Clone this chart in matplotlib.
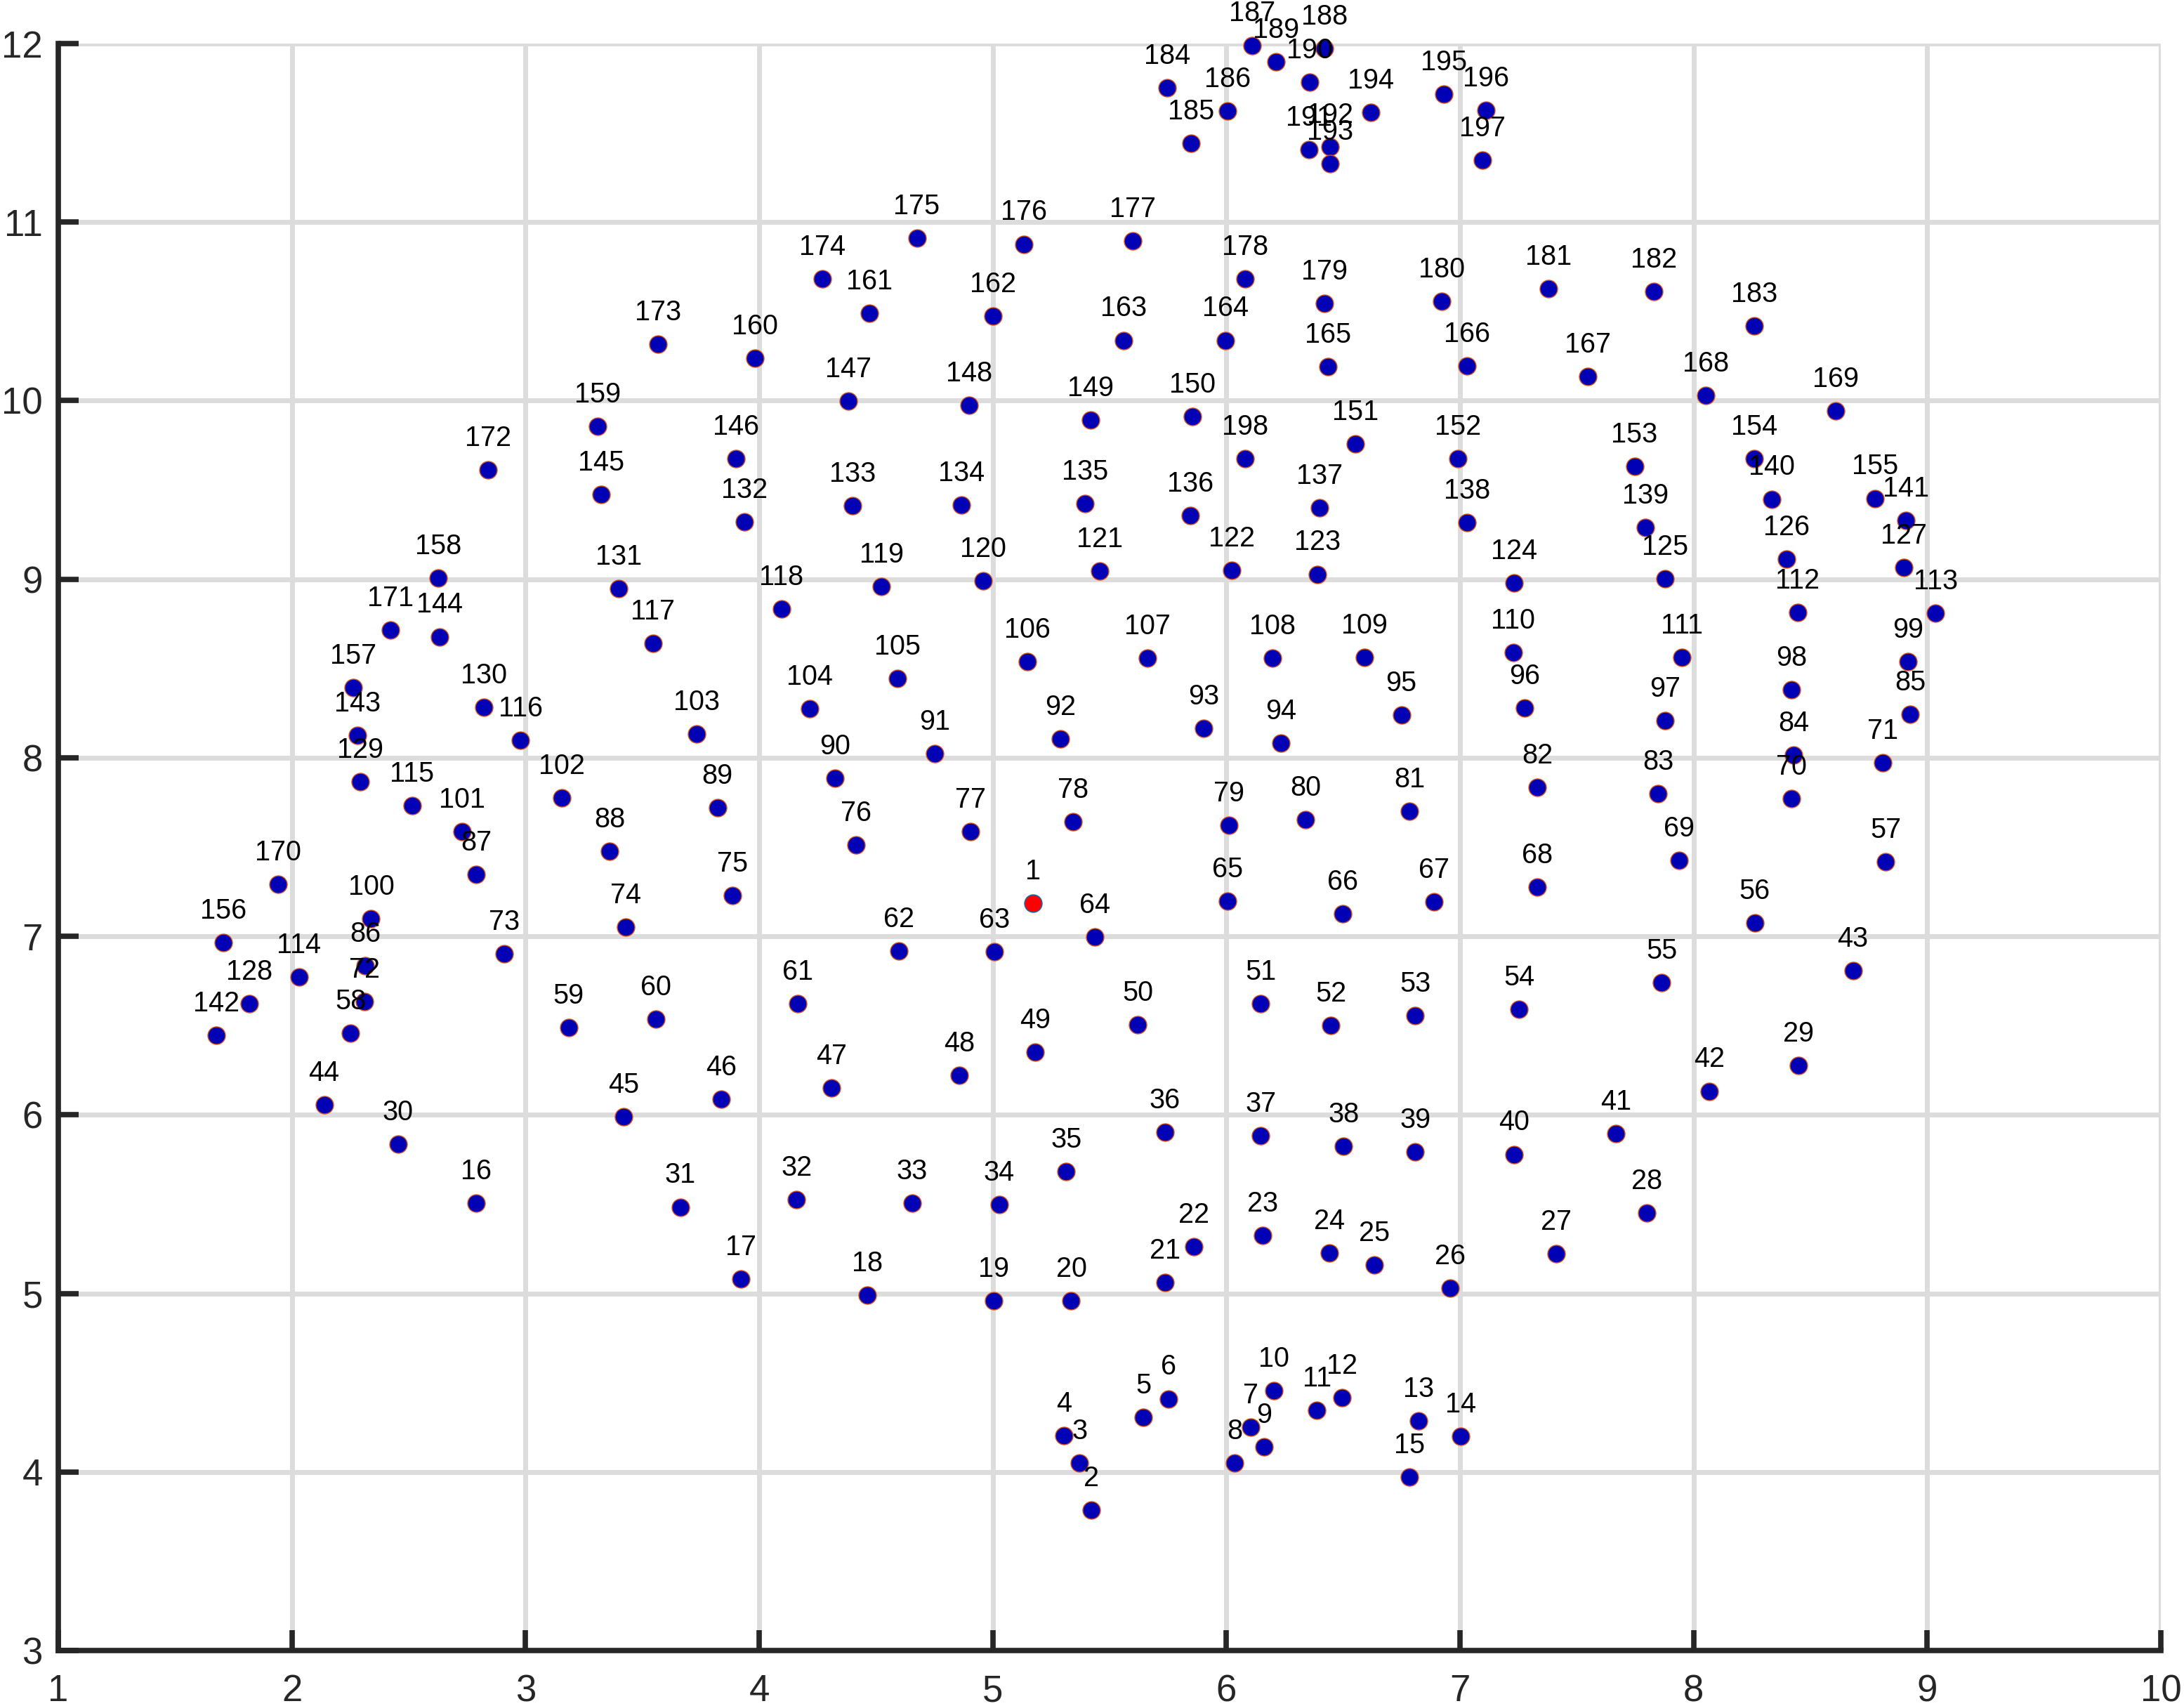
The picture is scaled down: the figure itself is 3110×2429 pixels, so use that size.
import matplotlib
matplotlib.use("Agg")
import matplotlib.pyplot as plt

x_vals = [
    5.172, 5.423, 5.371, 5.304, 5.645, 5.752, 6.103, 6.036, 6.161, 6.203,
    6.388, 6.495, 6.823, 7.003, 6.783, 2.789, 3.921, 4.464, 5.005, 5.336,
    5.737, 5.860, 6.154, 6.442, 6.632, 6.958, 7.412, 7.801, 8.450, 2.454,
    3.663, 4.160, 4.655, 5.027, 5.314, 5.737, 6.147, 6.502, 6.809, 7.231,
    7.668, 8.066, 8.682, 2.138, 3.419, 3.837, 4.310, 4.858, 5.181, 5.621,
    6.147, 6.447, 6.809, 7.253, 7.863, 8.262, 8.822, 2.251, 3.185, 3.559,
    4.165, 4.597, 5.008, 5.438, 6.005, 6.497, 6.890, 7.332, 7.938, 8.419,
    8.809, 2.312, 2.910, 3.429, 3.885, 4.414, 4.904, 5.345, 6.010, 6.338,
    6.784, 7.332, 7.848, 8.429, 8.927, 2.314, 2.790, 3.361, 3.822, 4.324,
    4.752, 5.289, 5.902, 6.233, 6.749, 7.277, 7.879, 8.418, 8.917, 2.339,
    2.727, 3.156, 3.733, 4.215, 4.593, 5.148, 5.662, 6.196, 6.590, 7.227,
    7.949, 8.445, 9.036, 2.030, 2.514, 2.978, 3.545, 4.095, 4.524, 4.960,
    5.458, 6.023, 6.391, 7.232, 7.879, 8.398, 8.899, 1.817, 2.294, 2.822,
    3.398, 3.937, 4.399, 4.867, 5.395, 5.846, 6.400, 7.029, 7.794, 8.334,
    8.909, 1.676, 2.280, 2.633, 3.325, 3.902, 4.383, 4.899, 5.418, 5.854,
    6.553, 6.992, 7.747, 8.259, 8.778, 1.706, 2.262, 2.627, 3.308, 3.982,
    4.471, 5.002, 5.559, 5.995, 6.436, 7.031, 7.547, 8.051, 8.609, 1.940,
    2.421, 2.840, 3.566, 4.270, 4.675, 5.133, 5.598, 6.080, 6.421, 6.922,
    7.380, 7.830, 8.259, 5.746, 5.850, 6.006, 6.111, 6.421, 6.213, 6.358,
    6.354, 6.443, 6.443, 6.619, 6.931, 7.112, 7.096, 6.080,
]

y_vals = [
    7.185, 3.786, 4.049, 4.203, 4.306, 4.410, 4.252, 4.052, 4.140, 4.456,
    4.346, 4.416, 4.286, 4.201, 3.970, 5.507, 5.082, 4.990, 4.959, 4.957,
    5.062, 5.260, 5.325, 5.227, 5.161, 5.029, 5.222, 5.451, 6.277, 5.836,
    5.484, 5.527, 5.507, 5.496, 5.684, 5.902, 5.882, 5.824, 5.791, 5.779,
    5.894, 6.133, 6.806, 6.055, 5.991, 6.088, 6.149, 6.223, 6.353, 6.504,
    6.621, 6.499, 6.557, 6.590, 6.740, 7.074, 7.416, 6.458, 6.489, 6.537,
    6.621, 6.916, 6.913, 6.996, 7.196, 7.128, 7.192, 7.276, 7.424, 7.770,
    7.972, 6.634, 6.901, 7.051, 7.229, 7.513, 7.587, 7.643, 7.622, 7.653,
    7.702, 7.834, 7.799, 8.016, 8.245, 6.835, 7.346, 7.476, 7.719, 7.886,
    8.022, 8.107, 8.163, 8.083, 8.241, 8.278, 8.209, 8.382, 8.537, 7.097,
    7.585, 7.774, 8.135, 8.274, 8.445, 8.537, 8.557, 8.557, 8.563, 8.590,
    8.563, 8.813, 8.809, 6.773, 7.733, 8.097, 8.642, 8.835, 8.958, 8.990,
    9.044, 9.048, 9.028, 8.978, 9.002, 9.111, 9.066, 6.622, 7.865, 8.284,
    8.948, 9.320, 9.410, 9.414, 9.422, 9.356, 9.398, 9.318, 9.290, 9.449,
    9.330, 6.445, 8.127, 8.678, 9.475, 9.674, 9.998, 9.974, 9.893, 9.913,
    9.759, 9.674, 9.632, 9.674, 9.453, 6.964, 8.392, 9.006, 9.857, 10.239,
    10.491, 10.473, 10.338, 10.338, 10.189, 10.195, 10.137, 10.030, 9.944, 7.291,
    8.714, 9.612, 10.318, 10.682, 10.909, 10.877, 10.893, 10.682, 10.543, 10.555,
    10.626, 10.610, 10.417, 11.751, 11.440, 11.624, 11.990, 11.974, 11.898, 11.784,
    11.406, 11.420, 11.329, 11.613, 11.715, 11.626, 11.348, 9.674,
]

point_labels = [str(i + 1) for i in range(len(x_vals))]
highlight_index = 0

x_ticks = [1, 2, 3, 4, 5, 6, 7, 8, 9, 10]
y_ticks = [3, 4, 5, 6, 7, 8, 9, 10, 11, 12]

plt.rcParams['font.family'] = ['Liberation Sans', 'DejaVu Sans']

fig = plt.figure(figsize=(31.1, 24.29), dpi=100)
ax = fig.add_axes([0.02669, 0.03252, 0.96270, 0.94195])

ax.set_xlim(1, 10)
ax.set_ylim(3, 12)
ax.set_xticks(x_ticks)
ax.set_yticks(y_ticks)
ax.set_xticklabels([str(t) for t in x_ticks])
ax.set_yticklabels([str(t) for t in y_ticks])

ax.grid(True, color='#dcdcdc', linewidth=5, zorder=0)
ax.set_axisbelow(True)

for s in ['top', 'right']:
    ax.spines[s].set_visible(False)
for s in ['left', 'bottom']:
    ax.spines[s].set_color('#262626')
    ax.spines[s].set_linewidth(5.5)
    ax.spines[s].set_zorder(5)

ax.tick_params(axis='both', direction='in', length=21, width=5.5,
               color='#262626', labelcolor='#262626', labelsize=38)
ax.tick_params(axis='x', pad=24)
ax.tick_params(axis='y', pad=16)
ax.tick_params(top=False, right=False)

others_x = [x for i, x in enumerate(x_vals) if i != highlight_index]
others_y = [y for i, y in enumerate(y_vals) if i != highlight_index]
ax.scatter(others_x, others_y, s=324, facecolor='#0000b4', edgecolor='#d95319',
           linewidth=1.0, zorder=3, clip_on=False)
ax.scatter([x_vals[highlight_index]], [y_vals[highlight_index]], s=324,
           facecolor='#ff0000', edgecolor='#0072bd', linewidth=1.0, zorder=3,
           clip_on=False)

for x, y, lab in zip(x_vals, y_vals, point_labels):
    ax.text(x, y + 0.134, lab, ha='center', va='baseline', fontsize=28.5,
            color='black', zorder=4, clip_on=False)

fig.savefig('out.png', dpi=100)
